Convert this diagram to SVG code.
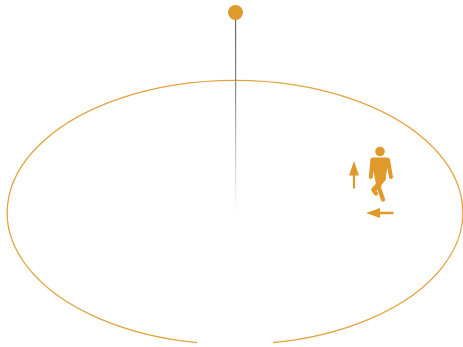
<svg xmlns="http://www.w3.org/2000/svg" width="463" height="347" viewBox="0 0 463 347">
<style>
.o{fill:#e09a2b}
.s{fill:none;stroke:#e2a440}
.leg{fill:none;stroke:#e09a2b;stroke-width:4.200;stroke-linecap:round;stroke-linejoin:round}
.arm{fill:none;stroke:#e09a2b;stroke-width:4;stroke-linecap:round}
</style>
<defs>
<linearGradient id="fade" gradientUnits="userSpaceOnUse" x1="235.500" y1="20" x2="235.500" y2="214">
<stop offset="0" stop-color="#666"/>
<stop offset="0.35" stop-color="#8a8a8a"/>
<stop offset="1" stop-color="#999" stop-opacity="0"/>
</linearGradient>
</defs>
<rect width="463" height="347" fill="#fff"/>
<g id="connectors">
<path id="orbit" class="s" stroke-width="1.300" d="M273 342.600A227.800 132 0 1 0 197 342.600"/>
<rect id="pole" x="235" y="18" width="1.200" height="196" fill="url(#fade)"/>
</g>
<g id="pivot"><circle class="o" cx="235.500" cy="12.500" r="7.500"/></g>
<g id="walker">
<circle class="o" cx="380" cy="151.500" r="4.800"/>
<path class="o" d="M373 157.500H387Q390 157.500 389.500 161L386.500 172L385.500 180L379 188L376 180L373.500 172L370.500 161Q370 157.500 373 157.500Z"/>
<path class="arm" d="M372.500 160L370.800 177M388 160L391 177"/>
<path class="leg" d="M384 178L373.500 189.500M376.500 176L379 188L383 199.500"/>
<path class="leg" d="M379.500 186L373.500 190L376 193.500" stroke-width="3.500"/>
</g>
<g id="arrow-up">
<path class="o" d="M354 161L359 175.500H355.100V188.500H352.900V175.500H349Z"/>
</g>
<g id="arrow-left">
<path class="o" d="M366 213L380 208V211.800H393.500V214.200H380V218Z"/>
</g>
</svg>
